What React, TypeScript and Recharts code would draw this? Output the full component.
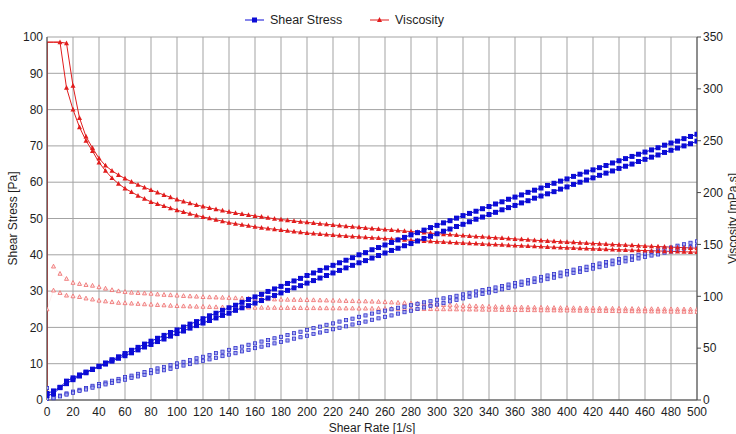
import { LineChart, Line, XAxis, YAxis, CartesianGrid } from "recharts"

const FONT = '"Liberation Sans", Arial, sans-serif'

// shear rate [1/s], one reading every 5
const rates = [
  0, 5, 10, 15, 20, 25, 30, 35, 40, 45,
  50, 55, 60, 65, 70, 75, 80, 85, 90, 95,
  100, 105, 110, 115, 120, 125, 130, 135, 140, 145,
  150, 155, 160, 165, 170, 175, 180, 185, 190, 195,
  200, 205, 210, 215, 220, 225, 230, 235, 240, 245,
  250, 255, 260, 265, 270, 275, 280, 285, 290, 295,
  300, 305, 310, 315, 320, 325, 330, 335, 340, 345,
  350, 355, 360, 365, 370, 375, 380, 385, 390, 395,
  400, 405, 410, 415, 420, 425, 430, 435, 440, 445,
  450, 455, 460, 465, 470, 475, 480, 485, 490, 495,
  500,
]

// shear stress [Pa], first sample (solid markers)
const stressUp = [
  1.8, 2.5, 3.5, 5.2, 6.1, 6.9, 7.7, 8.5, 9.3, 10.2,
  11.1, 11.9, 12.8, 13.7, 14.5, 15.4, 16.2, 17.0, 17.8, 18.6,
  19.3, 20.1, 20.9, 21.6, 22.4, 23.2, 23.9, 24.7, 25.4, 26.1,
  26.9, 27.7, 28.4, 29.1, 29.9, 30.6, 31.3, 32.1, 32.8, 33.5,
  34.3, 35.0, 35.7, 36.4, 37.1, 37.8, 38.5, 39.2, 40.0, 40.6,
  41.4, 42.0, 42.7, 43.4, 44.1, 44.8, 45.5, 46.1, 46.8, 47.5,
  48.1, 48.8, 49.4, 50.1, 50.8, 51.4, 52.0, 52.7, 53.3, 54.0,
  54.6, 55.3, 55.9, 56.5, 57.2, 57.8, 58.4, 59.1, 59.7, 60.3,
  60.9, 61.6, 62.2, 62.8, 63.4, 64.0, 64.6, 65.3, 65.9, 66.5,
  67.1, 67.7, 68.3, 68.9, 69.5, 70.2, 70.8, 71.3, 72.0, 72.6,
  73.2,
]
const stressDown = [
  1.2, 1.7, 3.4, 4.5, 5.6, 6.6, 7.5, 8.4, 9.2, 9.9,
  10.7, 11.5, 12.2, 13.0, 13.8, 14.6, 15.3, 16.1, 16.8, 17.6,
  18.3, 19.0, 19.8, 20.5, 21.2, 21.9, 22.6, 23.3, 23.9, 24.7,
  25.4, 26.0, 26.7, 27.4, 28.1, 28.8, 29.5, 30.2, 30.9, 31.5,
  32.2, 32.9, 33.6, 34.3, 35.0, 35.7, 36.4, 37.1, 37.8, 38.4,
  39.1, 39.8, 40.5, 41.2, 41.8, 42.5, 43.1, 43.8, 44.5, 45.1,
  45.8, 46.5, 47.1, 47.8, 48.4, 49.1, 49.8, 50.4, 51.1, 51.7,
  52.4, 53.0, 53.6, 54.3, 54.9, 55.6, 56.2, 56.8, 57.4, 58.1,
  58.7, 59.4, 60.0, 60.6, 61.2, 61.9, 62.5, 63.1, 63.8, 64.4,
  65.0, 65.7, 66.3, 66.9, 67.5, 68.2, 68.8, 69.4, 70.0, 70.6,
  71.3,
]

// shear stress [Pa], second sample (light markers)
const stressUp2 = [
  3.3, 0.6, 1.2, 1.8, 2.3, 2.8, 3.3, 3.9, 4.4, 4.8,
  5.3, 5.8, 6.3, 6.7, 7.2, 7.7, 8.2, 8.7, 9.1, 9.6,
  10.1, 10.5, 11.0, 11.5, 11.9, 12.4, 12.9, 13.3, 13.8, 14.3,
  14.7, 15.2, 15.6, 16.1, 16.5, 17.0, 17.4, 17.9, 18.4, 18.8,
  19.3, 19.8, 20.2, 20.7, 21.1, 21.6, 22.0, 22.4, 22.9, 23.3,
  23.8, 24.2, 24.6, 25.0, 25.4, 25.7, 26.1, 26.5, 26.9, 27.2,
  27.6, 28.0, 28.3, 28.7, 29.1, 29.5, 29.9, 30.3, 30.6, 31.0,
  31.4, 31.8, 32.2, 32.6, 33.0, 33.5, 33.9, 34.3, 34.7, 35.1,
  35.5, 35.9, 36.3, 36.7, 37.2, 37.6, 38.0, 38.4, 38.8, 39.2,
  39.6, 40.0, 40.4, 40.8, 41.2, 41.7, 42.0, 42.5, 42.9, 43.3,
  43.7,
]
const stressDown2 = [
  0.3, 0.5, 1.0, 1.5, 2.0, 2.5, 2.9, 3.4, 3.8, 4.3,
  4.7, 5.2, 5.6, 6.1, 6.5, 6.9, 7.4, 7.8, 8.2, 8.6,
  9.1, 9.5, 9.9, 10.4, 10.8, 11.2, 11.6, 12.1, 12.5, 12.9,
  13.4, 13.8, 14.3, 14.7, 15.1, 15.6, 16.0, 16.4, 16.9, 17.3,
  17.7, 18.2, 18.6, 19.0, 19.5, 19.9, 20.3, 20.8, 21.2, 21.6,
  22.1, 22.5, 22.9, 23.3, 23.8, 24.2, 24.6, 25.1, 25.5, 25.9,
  26.3, 26.7, 27.2, 27.6, 28.0, 28.4, 28.8, 29.2, 29.6, 30.0,
  30.5, 30.9, 31.3, 31.7, 32.1, 32.5, 32.9, 33.3, 33.7, 34.1,
  34.6, 35.0, 35.3, 35.8, 36.2, 36.6, 37.0, 37.4, 37.8, 38.2,
  38.6, 39.0, 39.4, 39.8, 40.1, 40.6, 40.9, 41.3, 41.7, 42.1,
  42.5,
]

// viscosity [mPa.s], first sample (solid markers)
const viscUp = [
  345, 345, 345, 344, 303, 272, 254, 243, 233, 226,
  221, 217, 213.5, 210.5, 207.5, 205, 202.5, 200, 197.7, 195.4,
  193.2, 191.4, 189.7, 188.1, 186.6, 185.2, 183.9, 182.6, 181.4, 180.3,
  179.3, 178.4, 177.5, 176.6, 175.7, 174.8, 174.0, 173.3, 172.6, 171.9,
  171.3, 170.6, 170.0, 169.4, 168.8, 168.2, 167.6, 167.0, 166.5, 165.9,
  165.4, 164.9, 164.4, 163.9, 163.4, 162.9, 162.4, 161.9, 161.4, 160.9,
  160.4, 159.9, 159.5, 159.0, 158.6, 158.1, 157.7, 157.3, 156.9, 156.5,
  156.1, 155.7, 155.3, 154.9, 154.5, 154.1, 153.7, 153.4, 153.0, 152.6,
  152.3, 152.0, 151.6, 151.3, 151.0, 150.6, 150.3, 150.0, 149.7, 149.4,
  149.1, 148.8, 148.5, 148.2, 147.9, 147.7, 147.4, 147.1, 146.9, 146.6,
  146.4,
]
const viscDown = [
  345, 345, 345, 301, 280, 263, 250, 240, 229, 221,
  214, 208.5, 204, 200.5, 197, 194, 191, 189, 187, 185,
  183, 181.3, 179.6, 178, 176.5, 175.2, 173.8, 172.4, 171, 170,
  169, 168, 167, 166.2, 165.4, 164.6, 163.8, 163.1, 162.4, 161.7,
  161, 160.5, 160, 159.6, 159.1, 158.6, 158.2, 157.7, 157.3, 156.9,
  156.5, 156.1, 155.7, 155.3, 154.9, 154.5, 154.1, 153.7, 153.4, 153.0,
  152.7, 152.4, 152.0, 151.7, 151.4, 151.1, 150.8, 150.5, 150.2, 149.9,
  149.6, 149.3, 149.0, 148.7, 148.4, 148.2, 147.9, 147.6, 147.3, 147.1,
  146.8, 146.6, 146.3, 146.1, 145.8, 145.6, 145.4, 145.1, 144.9, 144.7,
  144.5, 144.3, 144.1, 143.9, 143.7, 143.5, 143.3, 143.1, 142.9, 142.7,
  142.6,
]

// viscosity [mPa.s], second sample (light markers)
const viscUp2 = [
  null, 128.8, 121.8, 116.9, 113.1, 112.0, 111.0, 110.3, 108.9, 107.5,
  106.1, 105.0, 104.3, 103.6, 103.3, 102.9, 102.6, 101.9, 101.5, 101.2,
  100.8, 100.4, 100.1, 99.8, 99.4, 99.2, 99.0, 98.8, 98.6, 98.3,
  98.1, 97.9, 97.7, 97.5, 97.3, 97.1, 96.9, 96.8, 96.7, 96.6,
  96.5, 96.4, 96.2, 96.1, 95.9, 95.8, 95.6, 95.5, 95.3, 95.2,
  95.0, 94.8, 94.5, 94.2, 93.9, 93.6, 93.3, 93.0, 92.6, 92.3,
  92.0, 91.7, 91.4, 91.1, 90.9, 90.7, 90.5, 90.3, 90.1, 89.9,
  89.7, 89.6, 89.5, 89.4, 89.3, 89.2, 89.1, 89.0, 88.9, 88.8,
  88.8, 88.7, 88.6, 88.5, 88.5, 88.4, 88.3, 88.2, 88.2, 88.1,
  88.0, 87.9, 87.9, 87.8, 87.7, 87.7, 87.6, 87.6, 87.5, 87.5,
  87.4,
]
const viscDown2 = [
  87.5, 105.7, 103.3, 100.8, 100.1, 99.4, 98.0, 97.0, 95.9, 95.2,
  94.5, 93.8, 93.5, 93.1, 92.8, 92.4, 92.1, 91.7, 91.4, 91.0,
  90.7, 90.5, 90.3, 90.1, 90.0, 89.8, 89.6, 89.5, 89.4, 89.3,
  89.3, 89.2, 89.1, 89.1, 89.0, 89.0, 88.9, 88.9, 88.8, 88.8,
  88.7, 88.7, 88.6, 88.6, 88.5, 88.5, 88.4, 88.4, 88.3, 88.3,
  88.2, 88.2, 88.1, 88.1, 88.0, 88.0, 87.9, 87.9, 87.8, 87.8,
  87.7, 87.6, 87.6, 87.5, 87.4, 87.4, 87.3, 87.2, 87.2, 87.1,
  87.0, 87.0, 86.9, 86.8, 86.8, 86.7, 86.6, 86.6, 86.5, 86.4,
  86.4, 86.3, 86.2, 86.2, 86.1, 86.0, 86.0, 85.9, 85.8, 85.8,
  85.7, 85.6, 85.6, 85.5, 85.4, 85.4, 85.3, 85.2, 85.2, 85.1,
  85.0,
]

// the instrument starts the solid viscosity traces from zero at rest
const leadIn = { rate: 0, viscUp: 0, viscDown: 0, lead: true }

const rateTicks = [
  0, 20, 40, 60, 80, 100, 120, 140, 160, 180, 200, 220, 240,
  260, 280, 300, 320, 340, 360, 380, 400, 420, 440, 460, 480, 500,
]
const stressTicks = [0, 10, 20, 30, 40, 50, 60, 70, 80, 90, 100]
const viscTicks = [0, 50, 100, 150, 200, 250, 300, 350]

const rows = [
  leadIn,
  ...rates.map((rate, i) => ({
    rate,
    stressUp: stressUp[i],
    stressDown: stressDown[i],
    stressUp2: stressUp2[i],
    stressDown2: stressDown2[i],
    viscUp: viscUp[i],
    viscDown: viscDown[i],
    viscUp2: viscUp2[i],
    viscDown2: viscDown2[i],
  })),
]

const BLUE = "#0c0cd6"
const RED = "#e11d1d"
const GRID = "#a3a3a3"
const AXIS = "#4a4a4a"
const TEXT = "#1e1e1e"

const squareDot = (key: string, size: number, fill: string, stroke = "none") => (p: any) => {
  const k = `${key}-${p.index}`
  if (p.cx == null || p.cy == null || p.payload?.[key] == null || p.payload?.lead) return <g key={k} />
  const h = size / 2
  return (
    <rect key={k} x={p.cx - h} y={p.cy - h} width={size} height={size} fill={fill} stroke={stroke} strokeWidth={stroke === "none" ? 0 : 0.8} />
  )
}

const triangleDot = (key: string, size: number, fill: string, stroke = "none", from = 0) => (p: any) => {
  const k = `${key}-${p.index}`
  if (p.cx == null || p.cy == null || p.payload?.[key] == null || p.payload?.lead || p.payload.rate < from) {
    return <g key={k} />
  }
  const h = size / 2
  const d = `M${p.cx},${p.cy - h * 1.1} L${p.cx + h},${p.cy + h * 0.8} L${p.cx - h},${p.cy + h * 0.8} Z`
  return <path key={k} d={d} fill={fill} stroke={stroke} strokeWidth={stroke === "none" ? 0 : 0.8} />
}

function LegendItem({ left, color, label, marker }: { left: number; color: string; label: string; marker: "square" | "triangle" }) {
  return (
    <div style={{ position: "absolute", left, top: 13, display: "flex", alignItems: "center", gap: 6, fontSize: 12.5, color: TEXT, whiteSpace: "nowrap" }}>
      <svg width="19" height="10">
        <line x1="0" y1="5" x2="19" y2="5" stroke={color} strokeWidth="1" />
        {marker === "square" ? (
          <rect x="7" y="2.5" width="5" height="5" fill={color} />
        ) : (
          <path d="M9.5,2 L12,7 L7,7 Z" fill={color} />
        )}
      </svg>
      <span>{label}</span>
    </div>
  )
}

export default function App() {
  return (
    <div style={{ position: "absolute", left: 0, top: 0, width: 736, height: 434, background: "#fff", fontFamily: FONT, overflow: "hidden" }}>
      <LegendItem left={245} color={BLUE} label="Shear Stress" marker="square" />
      <LegendItem left={370} color={RED} label="Viscosity" marker="triangle" />

      <LineChart width={736} height={434} data={rows} margin={{ top: 37, right: 0, bottom: 0, left: 0 }}>
        <CartesianGrid yAxisId="left" stroke={GRID} />
        <XAxis
          dataKey="rate"
          type="number"
          domain={[0, 500]}
          ticks={rateTicks}
          interval={0}
          allowDataOverflow
          height={34}
          tickLine={false}
          tickSize={0}
          tickMargin={7}
          stroke={AXIS}
          tick={{ fill: TEXT, fontSize: 12 }}
          label={{ value: "Shear Rate [1/s]", position: "insideBottom", offset: 2, fill: TEXT, fontSize: 12 }}
        />
        <YAxis
          yAxisId="left"
          domain={[0, 100]}
          ticks={stressTicks}
          interval={0}
          width={47}
          tickLine={false}
          tickSize={0}
          tickMargin={4}
          stroke={AXIS}
          tick={{ fill: TEXT, fontSize: 12 }}
          label={{ value: "Shear Stress [Pa]", angle: -90, position: "insideLeft", offset: 13, fill: TEXT, fontSize: 12, style: { textAnchor: "middle" } }}
        />
        <YAxis
          yAxisId="right"
          orientation="right"
          domain={[0, 350]}
          ticks={viscTicks}
          interval={0}
          width={39}
          tickSize={4}
          tickMargin={2}
          stroke={AXIS}
          tick={{ fill: TEXT, fontSize: 12 }}
          label={{ value: "Viscosity [mPa.s]", angle: -90, position: "insideRight", offset: 3, fill: TEXT, fontSize: 12, style: { textAnchor: "middle" } }}
        />

        <Line yAxisId="right" dataKey="viscUp2" stroke="#f4b8b8" strokeOpacity={0.35} strokeWidth={0.6} dot={triangleDot("viscUp2", 4, "#fde6e6", "#ee6a6a")} activeDot={false} isAnimationActive={false} />
        <Line yAxisId="right" dataKey="viscDown2" stroke="#f4b8b8" strokeOpacity={0.35} strokeWidth={0.6} dot={triangleDot("viscDown2", 4, "#fde6e6", "#ee6a6a")} activeDot={false} isAnimationActive={false} />
        <Line yAxisId="left" dataKey="stressUp2" stroke="#c2c4f2" strokeOpacity={0.4} strokeWidth={0.6} dot={squareDot("stressUp2", 3.2, "#a9aef0", "#3434cc")} activeDot={false} isAnimationActive={false} />
        <Line yAxisId="left" dataKey="stressDown2" stroke="#c2c4f2" strokeOpacity={0.4} strokeWidth={0.6} dot={squareDot("stressDown2", 3.2, "#a9aef0", "#3434cc")} activeDot={false} isAnimationActive={false} />

        <Line yAxisId="right" dataKey="viscDown" stroke={RED} strokeWidth={1} dot={triangleDot("viscDown", 5, RED, "none", 10)} activeDot={false} isAnimationActive={false} />
        <Line yAxisId="right" dataKey="viscUp" stroke={RED} strokeWidth={1} dot={triangleDot("viscUp", 5, RED, "none", 15)} activeDot={false} isAnimationActive={false} />
        <Line yAxisId="left" dataKey="stressDown" stroke={BLUE} strokeWidth={1} dot={squareDot("stressDown", 5, BLUE)} activeDot={false} isAnimationActive={false} />
        <Line yAxisId="left" dataKey="stressUp" stroke={BLUE} strokeWidth={1} dot={squareDot("stressUp", 5, BLUE)} activeDot={false} isAnimationActive={false} />
      </LineChart>
    </div>
  )
}
